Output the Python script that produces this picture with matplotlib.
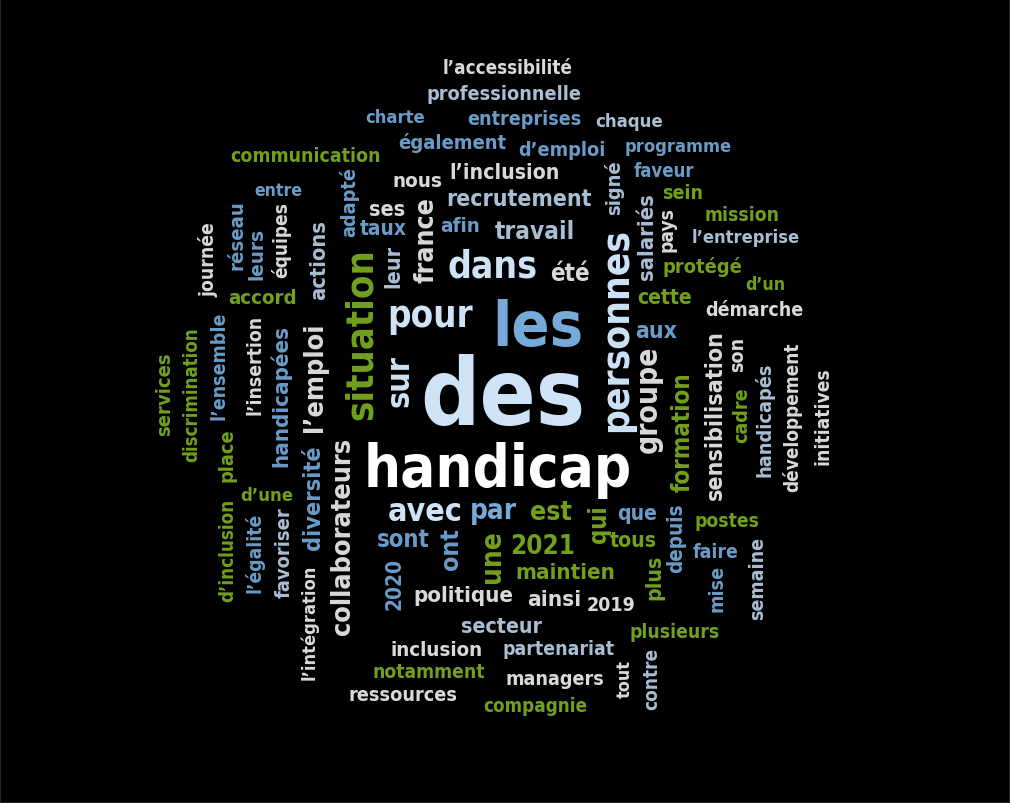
"""
Word cloud of the most frequent words in company disability reports
"""

import matplotlib
matplotlib.use('Agg')
import matplotlib.pyplot as plt
from matplotlib.patches import Rectangle

# horizontal words of the cloud
words_h = [
    'l’accessibilité', 'professionnelle', 'charte', 'entreprises', 'chaque',
    'également', 'd’emploi', 'programme', 'communication', 'l’inclusion',
    'faveur', 'nous', 'entre', 'recrutement', 'sein', 'ses', 'afin', 'mission',
    'taux', 'travail', 'l’entreprise', 'dans', 'été', 'protégé', 'd’un',
    'accord', 'pour', 'les', 'cette', 'démarche', 'aux', 'des', 'handicap',
    'd’une', 'avec', 'par', 'est', 'que', 'postes', 'sont', '2021', 'tous',
    'faire', 'maintien', 'politique', 'ainsi', '2019', 'secteur', 'plusieurs',
    'inclusion', 'partenariat', 'notamment', 'managers', 'ressources',
    'compagnie',
]
# vertical words of the cloud
words_v = [
    'signé', 'france', 'salariés', 'pays', 'adapté', 'journée', 'réseau',
    'leurs', 'équipes', 'actions', 'leur', 'situation', 'l’ensemble',
    'l’insertion', 'l’emploi', 'personnes', 'sur', 'services',
    'discrimination', 'handicapées', 'groupe', 'sensibilisation', 'son',
    'développement', 'initiatives', 'formation', 'handicapés', 'cadre', 'place',
    'collaborateurs', 'diversité', 'qui', 'd’inclusion', 'l’égalité',
    'favoriser', 'ont', 'une', 'depuis', 'plus', 'mise', 'semaine', '2020',
    'l’intégration', 'tout', 'contre',
]

# layout in pixels: (x_left, x_right, baseline_y)
pos_h = [
    (443, 573, 74), (427, 582, 100), (365, 425, 123), (467, 581, 125),
    (595, 663, 127), (398, 507, 149), (518, 605, 156), (625, 732, 152),
    (230, 381, 162), (450, 560, 179), (633, 694, 177), (393, 443, 187),
    (254, 302, 196), (447, 592, 206), (662, 703, 199), (369, 405, 216),
    (440, 480, 232), (705, 780, 221), (360, 407, 235), (495, 575, 239),
    (692, 800, 243), (448, 538, 278), (550, 590, 281), (662, 742, 273),
    (745, 785, 290), (228, 297, 304), (387, 473, 327), (492, 583, 346),
    (637, 692, 304), (705, 803, 316), (635, 677, 338), (420, 585, 425),
    (363, 632, 487), (240, 293, 501), (388, 463, 521), (470, 517, 519),
    (530, 572, 520), (617, 657, 520), (695, 760, 527), (377, 430, 547),
    (510, 575, 554), (610, 657, 547), (693, 739, 558), (515, 615, 579),
    (413, 514, 602), (527, 581, 606), (586, 635, 611), (461, 542, 633),
    (630, 720, 638), (390, 483, 656), (503, 615, 655), (373, 485, 678),
    (505, 604, 685), (348, 457, 701), (483, 587, 712),
]
# layout in pixels: (baseline_x, y_top, y_bottom)
pos_v = [
    (620, 160, 215), (433, 197, 283), (653, 193, 280), (672, 207, 252),
    (355, 167, 237), (215, 222, 297), (242, 200, 270), (263, 228, 280),
    (287, 202, 278), (325, 220, 300), (399, 245, 288), (372, 248, 420),
    (225, 312, 420), (260, 315, 415), (322, 322, 432), (627, 228, 433),
    (408, 355, 407), (170, 352, 436), (197, 327, 463), (287, 325, 467),
    (657, 345, 453), (722, 330, 500), (743, 337, 372), (798, 343, 492),
    (828, 368, 465), (690, 372, 492), (770, 362, 477), (747, 387, 443),
    (233, 428, 482), (350, 437, 635), (320, 445, 550), (606, 505, 543),
    (233, 498, 602), (260, 513, 593), (290, 507, 598), (458, 528, 570),
    (500, 530, 583), (682, 503, 573), (660, 555, 600), (722, 565, 612),
    (763, 537, 620), (400, 558, 610), (315, 565, 680), (630, 660, 698),
    (657, 648, 710),
]

palette = {
    'w': '#ffffff',   # white
    'g': '#d9d9d9',   # light grey
    'l': '#cfe3f6',   # pale blue
    's': '#a9bdd3',   # slate
    'b': '#6b9bc8',   # steel blue
    'm': '#76aad8',   # mid blue
    'v': '#72a01e',   # green
}
col_h = ['g', 's', 'b', 'b', 's', 'b', 'b', 'b', 'v', 'g',
         'b', 'g', 'b', 's', 'v', 'g', 'b', 'v', 'b', 's',
         's', 'l', 'g', 'v', 'v', 'v', 'l', 'm', 'v', 'g',
         'b', 'l', 'w', 'v', 'l', 'm', 'v', 'b', 'v', 'b',
         'v', 'v', 'b', 'v', 'g', 'g', 'g', 's', 'v', 'g',
         's', 'v', 'g', 'g', 'v']
col_v = ['s', 'g', 's', 'g', 'b', 'g', 'b', 'b', 'g', 's',
         's', 'v', 'b', 'g', 'g', 'l', 'l', 'v', 'v', 'b',
         'g', 'g', 'g', 'g', 'g', 'v', 's', 'v', 'v', 'g',
         'b', 'v', 'v', 'b', 's', 'b', 'v', 'b', 'v', 'b',
         's', 'b', 'g', 'g', 's']

fig = plt.figure(figsize=(10.1, 8.04), dpi=100, facecolor='black')
ax = fig.add_axes([0, 0, 1, 1])
ax.set_facecolor('black')
ax.set_xlim(0, 1010)
ax.set_ylim(804, 0)
ax.axis('off')

# faint frame round the picture
fig.patches.append(Rectangle((0, 0), 1, 1, transform=fig.transFigure,
                             fill=False, edgecolor='#262626', linewidth=1.5))

font = dict(family='DejaVu Sans', stretch='condensed', weight='bold')
renderer = fig.canvas.get_renderer()
base_size = 20

for word, (x0, x1, base), c in zip(words_h, pos_h, col_h):
    t = ax.text((x0 + x1) / 2, base, word, color=palette[c], fontsize=base_size,
                ha='center', va='baseline', **font)
    # scale so that the word fills its slot
    w = t.get_window_extent(renderer).width
    t.set_fontsize(base_size * (x1 - x0) / w)

for word, (bx, y0, y1), c in zip(words_v, pos_v, col_v):
    t = ax.text(bx, (y0 + y1) / 2, word, color=palette[c], fontsize=base_size,
                rotation=90, rotation_mode='anchor', ha='center', va='baseline',
                **font)
    h = t.get_window_extent(renderer).height
    t.set_fontsize(base_size * (y1 - y0) / h)

fig.savefig('out.png', dpi=100, facecolor='black')
